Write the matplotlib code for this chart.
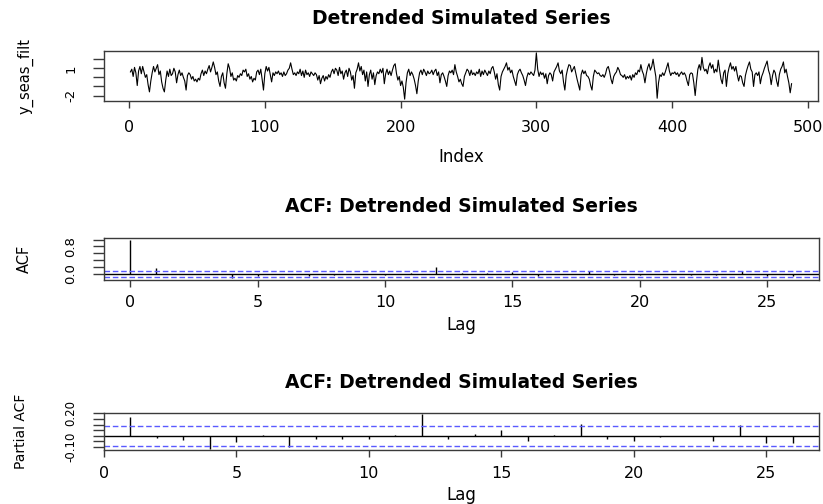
import matplotlib
matplotlib.use("Agg")
import matplotlib.pyplot as plt
import numpy as np

W, H = 823, 504

# detrended series (index 1..488)
y_seas_filt = [
    0.6, 0.9, 0.1, 1.1, 0.5, -0.9, 0.7, 1.2, 0.4, 1.2, 0.6, 0.0, 0.3, -0.8, -1.6, -0.4, 0.5, 1.2, 0.6, 1.0,
    1.4, 0.3, 0.7, -0.5, -1.2, -1.6, -0.3, 0.7, 0.1, 0.9, 0.2, 0.4, 1.0, 0.6, -0.6, 0.3, 0.8, 0.2, 0.5, 0.0,
    -0.4, -1.4, 0.2, 0.5, 0.3, -0.2, 0.1, -0.4, -0.2, -0.5, -0.1, -0.3, 0.4, 0.8, 0.2, 0.7, 0.4, 0.9, 1.3, 0.6,
    1.1, 1.7, 1.1, 0.3, 0.6, -0.4, -1.0, 0.1, 0.5, -0.6, -1.2, 0.4, 1.5, 1.0, 0.1, 0.5, -0.3, -0.1, -0.4, 0.2,
    0.0, 0.4, 0.2, 0.8, 0.6, 0.9, 0.1, 0.4, -0.2, 0.1, -0.5, -0.1, -0.3, 0.6, 0.8, 0.3, 0.9, -0.2, -1.4, 0.4,
    1.2, 0.7, 1.1, 0.3, -0.5, 0.5, 0.2, 0.6, 0.4, 0.7, 0.3, 0.5, 0.1, 0.6, 0.2, 0.4, 0.8, 1.0, 1.6, 0.9,
    0.3, 0.5, 0.2, 0.6, 0.4, 0.9, 0.2, 0.7, 0.0, 0.8, 0.3, 0.5, 0.1, 0.6, 0.4, 0.2, 0.5, 0.3, -0.3, 0.2,
    -0.7, -0.1, 0.2, -0.4, 0.1, -0.2, 0.3, 0.0, 0.6, 0.9, 0.4, 1.0, 0.8, 0.2, 1.1, 0.4, 0.7, -0.2, 0.5, 0.8,
    0.1, 1.0, 0.6, -0.3, 0.2, -1.2, 0.5, 0.9, 1.6, 0.7, 1.2, 0.3, 0.8, -0.4, 0.6, -1.0, 0.3, 0.8, -0.2, 0.5,
    -0.8, 0.2, 0.6, 0.4, 0.9, 0.5, 1.0, -0.7, 0.4, 0.9, 0.3, 0.7, 0.2, 0.8, 1.3, 1.5, 0.4, -0.3, 0.1, -0.9,
    -0.4, -1.1, -2.4, -0.6, 0.5, 0.9, 0.2, 0.6, 0.3, -0.2, -0.9, -1.8, -0.4, 0.5, 0.8, 0.3, 0.9, 0.6, 0.2, 0.7,
    0.4, 0.5, 0.8, 0.3, 0.7, 0.9, 0.2, 0.6, -0.6, 0.3, 0.5, 0.1, -0.4, -1.0, 0.2, 0.7, 0.5, 0.8, 0.3, 1.4,
    0.6, 0.1, -0.5, -0.2, -0.7, -1.0, 0.1, 0.5, 0.9, 0.7, 0.2, 0.8, 0.3, 0.5, 0.2, 0.6, 0.4, 0.9, 0.1, 0.7,
    0.3, 0.8, 0.5, 0.2, 0.7, 0.4, 1.0, 1.2, 0.6, -0.2, 0.4, -0.8, -1.4, 0.1, 0.6, 0.9, 1.2, 1.6, 0.8, 1.1,
    0.5, 0.8, 0.1, -0.4, -0.9, 0.3, 0.7, 0.9, 0.5, 0.2, -0.3, -0.9, 0.0, 0.5, 0.3, 0.6, 0.4, 0.2, 0.8, 2.7,
    0.9, 0.1, 0.6, 0.3, 0.5, -0.1, 0.4, -0.7, 0.2, 0.5, 0.3, -0.4, 0.6, 0.9, 1.2, 1.6, 0.7, 0.4, 0.8, -0.5,
    -1.4, 0.2, 0.9, 1.4, 1.3, 0.6, 0.9, 1.2, 0.5, -0.2, -0.8, -1.4, 0.3, 0.8, 0.4, 0.7, 0.2, 0.1, -0.2, -0.9,
    -1.4, 0.1, 0.8, 0.6, 0.4, 0.5, 0.2, 0.1, 0.3, 0.0, 0.4, 1.0, 1.2, 0.6, -0.2, -0.7, 0.1, 0.4, 0.6, 1.1,
    0.8, 0.3, 0.2, 0.0, 0.3, -0.2, 0.1, -0.1, 0.2, -0.3, 0.3, 0.0, 0.5, 0.3, 0.8, 0.6, 1.4, 0.7, 0.3, -0.6,
    0.4, 1.1, 1.5, 0.8, 1.2, 2.0, 1.0, 0.1, -2.3, -0.6, 0.3, 0.1, 0.5, 0.2, 0.6, 1.1, 1.6, 0.7, 0.2, 0.5,
    0.4, 0.6, 0.3, 0.5, 0.1, 0.4, 0.6, 0.3, 0.5, 0.2, -0.4, -0.9, 0.3, 0.5, 0.4, -0.6, -2.0, -0.4, 0.9, 1.4,
    0.8, 2.2, 1.1, 0.7, 0.9, 0.4, 1.2, 1.6, 1.0, 1.4, 0.5, 0.9, 0.6, 1.9, 0.8, -0.2, -0.7, 0.5, 0.8, -1.0,
    0.4, 1.1, 1.6, 0.9, 1.2, 0.7, 1.2, 0.3, -0.4, 0.2, 0.1, -0.6, -1.0, 0.2, 0.8, 1.3, 1.7, 0.9, 0.6, -1.0,
    0.3, 0.5, 0.2, 0.6, -0.7, 0.1, 0.5, 1.0, 1.4, 1.8, 0.8, 0.3, -0.8, 0.2, 0.8, 0.5, -0.4, -1.0, 0.3, 0.9,
    1.2, 1.7, 0.5, 0.9, 0.1, -0.6, -1.7, -0.7,
]

acf_lags = list(range(0, 27))
acf_vals = [
    1.0, 0.17, 0.0, -0.01, -0.13, -0.06, 0.0, -0.05, -0.02, 0.0, -0.03, 0.03, 0.2, 0.04,
    0.02, 0.05, -0.07, 0.01, 0.08, -0.03, -0.03, -0.01, -0.02, -0.03, 0.1, -0.06, -0.05,
]

pacf_lags = list(range(1, 27))
pacf_vals = [
    0.17, -0.024, -0.04, -0.115, -0.053, 0.01, -0.1, -0.03, -0.025, -0.03, 0.005, 0.192, -0.026,
    0.02, 0.056, -0.044, 0.008, 0.103, -0.03, -0.044, -0.015, 0.0, -0.044, 0.094, -0.068, -0.068,
]

BOX = "#3a3a3a"
CI_BLUE = "#5a5aff"
TITLE = "Detrended Simulated Series"


def r_range(lo, hi):
    pad = 0.04 * (hi - lo)
    return lo - pad, hi + pad


def px_axes(fig, left, top, right, bottom):
    return fig.add_axes([left / W, 1 - bottom / H, (right - left) / W, (bottom - top) / H])


def r_style(ax, xpad, ysize=9.5):
    for s in ax.spines.values():
        s.set_color(BOX)
        s.set_linewidth(1.0)
    ax.tick_params(axis="x", direction="out", length=5, width=1.0, color=BOX,
                   labelsize=11.5, pad=xpad)
    ax.tick_params(axis="y", direction="out", length=8, width=1.0, color=BOX,
                   labelsize=ysize, pad=11, labelrotation=90)
    plt.setp(ax.get_yticklabels(), va="center")


def ftext(x, y, s, **kw):
    fig.text(x / W, 1 - y / H, s, ha="center", va="center", **kw)


fig = plt.figure(figsize=(W / 100, H / 100), dpi=100)
conf = 1.96 / np.sqrt(len(y_seas_filt))

# series panel
idx = np.arange(1, len(y_seas_filt) + 1)
ax1 = px_axes(fig, 104, 51, 818, 101)
ax1.plot(idx, y_seas_filt, color="black", lw=0.8)
ax1.set_xlim(*r_range(1, len(y_seas_filt)))
ax1.set_ylim(*r_range(min(y_seas_filt), max(y_seas_filt)))
ax1.set_xticks([0, 100, 200, 300, 400, 500])
ax1.set_yticks([-2, -1, 0, 1, 2], ["-2", "", "", "1", ""])
r_style(ax1, 9)

# ACF panel
ax2 = px_axes(fig, 104, 238, 819, 280)
ax2.vlines(acf_lags, 0, acf_vals, color="black", lw=1.0)
ax2.axhline(0, color="black", lw=1.0)
ax2.axhline(conf, color=CI_BLUE, lw=1.0, ls=(0, (4, 2)))
ax2.axhline(-conf, color=CI_BLUE, lw=1.0, ls=(0, (4, 2)))
ax2.set_xlim(*r_range(0, 26))
ax2.set_ylim(*r_range(min(min(acf_vals), -conf), max(max(acf_vals), conf)))
ax2.set_xticks([0, 5, 10, 15, 20, 25])
ax2.set_yticks([0.0, 0.2, 0.4, 0.6, 0.8, 1.0], ["0.0", "", "", "", "0.8", ""])
r_style(ax2, 6)

# PACF panel
ax3 = px_axes(fig, 104, 413, 819, 450)
ax3.vlines(pacf_lags, 0, pacf_vals, color="black", lw=1.0)
ax3.axhline(0, color="black", lw=1.0)
ax3.axhline(conf, color=CI_BLUE, lw=1.0, ls=(0, (4, 2)))
ax3.axhline(-conf, color=CI_BLUE, lw=1.0, ls=(0, (4, 2)))
ax3.set_xlim(*r_range(1, 26))
ax3.set_ylim(*r_range(min(min(pacf_vals), -conf), max(max(pacf_vals), conf)))
ax3.set_xticks([0, 5, 10, 15, 20, 25])
ax3.set_yticks([-0.10, -0.05, 0.0, 0.05, 0.10, 0.15, 0.20],
               ["-0.10", "", "", "", "", "", "0.20"])
r_style(ax3, 6.5, ysize=8.5)

# titles and axis labels
ftext(461, 18, TITLE, fontsize=13.5, fontweight="bold")
ftext(461, 207, "ACF: " + TITLE, fontsize=13.5, fontweight="bold")
ftext(461, 383, "ACF: " + TITLE, fontsize=13.5, fontweight="bold")
ftext(461, 157, "Index", fontsize=12)
ftext(461, 325, "Lag", fontsize=12)
ftext(461, 495, "Lag", fontsize=12)
ftext(25, 76, "y_seas_filt", fontsize=10.5, rotation=90)
ftext(24, 259, "ACF", fontsize=10.5, rotation=90)
ftext(21, 431, "Partial ACF", fontsize=10, rotation=90)

fig.savefig("out.png", dpi=100)
